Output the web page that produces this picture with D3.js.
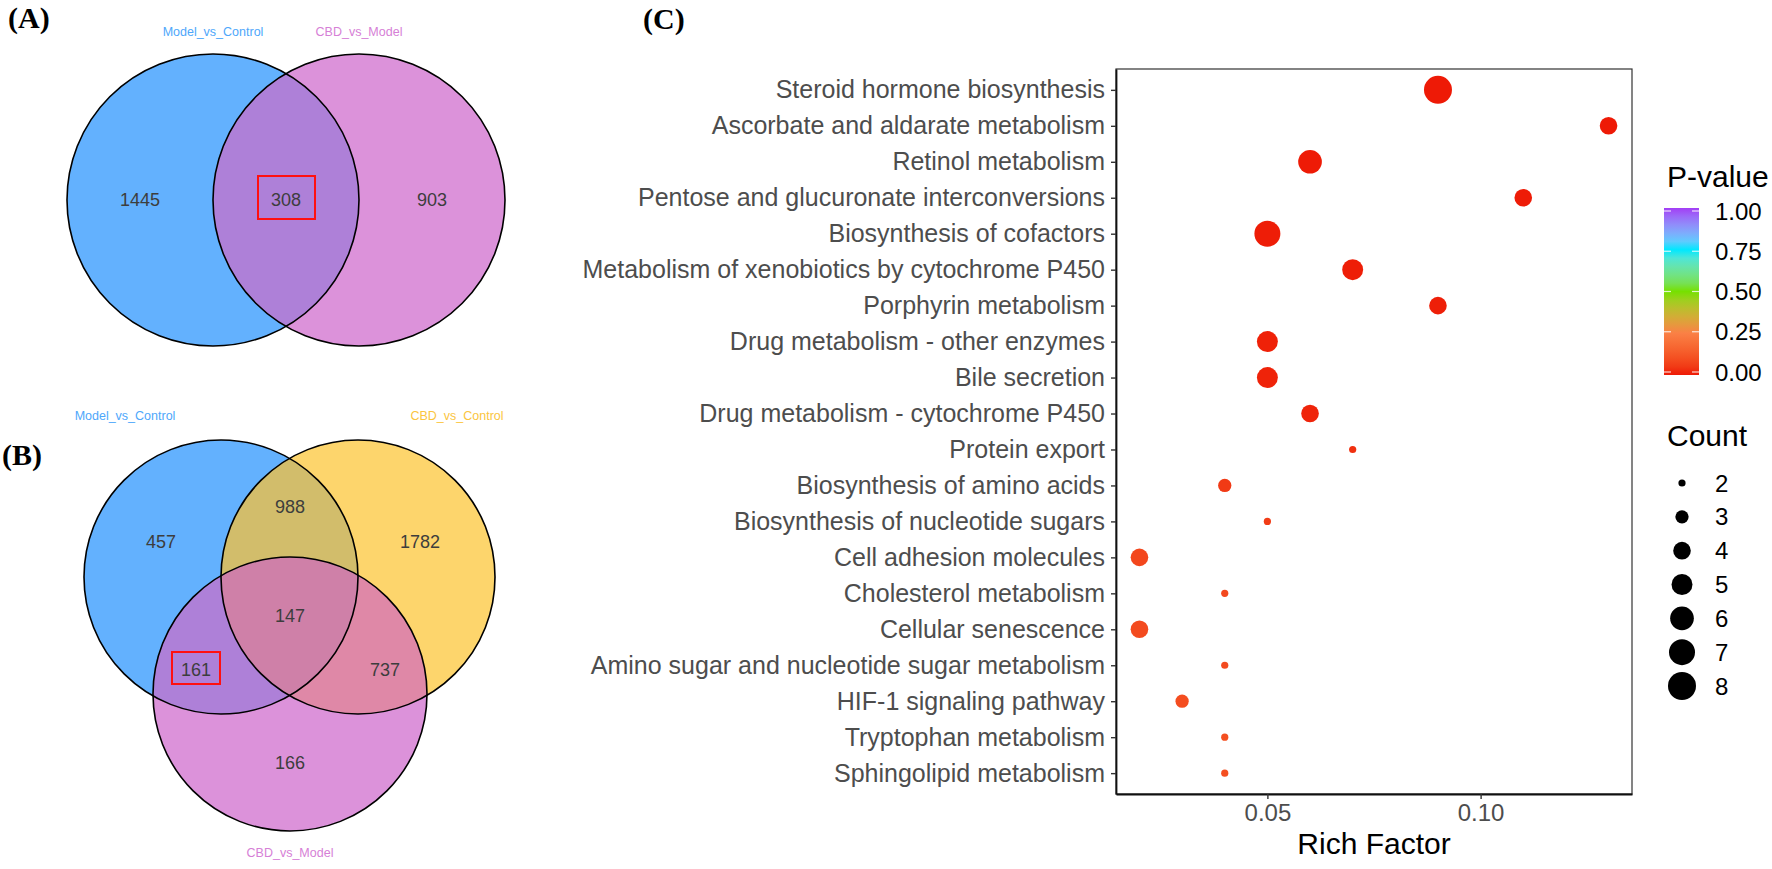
<!DOCTYPE html>
<html>
<head>
<meta charset="utf-8">
<script src="https://cdn.jsdelivr.net/npm/d3@7"></script>
<style>
  body { margin: 0; background: #fff; }
  svg { display: block; font-family: "Liberation Sans", Arial, sans-serif; }
</style>
</head>
<body>
<svg id="fig" width="1772" height="869"></svg>
<script>
// ---- data ----
// Venn (A): two sets
const vennASets = ["Model_vs_Control", "CBD_vs_Model"];
const vennACounts = [1445, 308, 903];          // only A, A&B, only B
// Venn (B): three sets
const vennBSets = ["Model_vs_Control", "CBD_vs_Control", "CBD_vs_Model"];
const vennBRegions = ["A", "AB", "B", "ABC", "AC", "BC", "C"];
const vennBCounts = [457, 988, 1782, 147, 161, 737, 166];

// (C) KEGG enrichment bubble plot
const pathways = [
  "Steroid hormone biosynthesis",
  "Ascorbate and aldarate metabolism",
  "Retinol metabolism",
  "Pentose and glucuronate interconversions",
  "Biosynthesis of cofactors",
  "Metabolism of xenobiotics by cytochrome P450",
  "Porphyrin metabolism",
  "Drug metabolism - other enzymes",
  "Bile secretion",
  "Drug metabolism - cytochrome P450",
  "Protein export",
  "Biosynthesis of amino acids",
  "Biosynthesis of nucleotide sugars",
  "Cell adhesion molecules",
  "Cholesterol metabolism",
  "Cellular senescence",
  "Amino sugar and nucleotide sugar metabolism",
  "HIF-1 signaling pathway",
  "Tryptophan metabolism",
  "Sphingolipid metabolism"
];
const richFactor = [0.09, 0.13, 0.06, 0.11, 0.05, 0.07, 0.09, 0.05, 0.05, 0.06,
                    0.07, 0.04, 0.05, 0.02, 0.04, 0.02, 0.04, 0.03, 0.04, 0.04];
const counts = [8, 4, 6, 4, 7, 5, 4, 5, 5, 4, 2, 3, 2, 4, 2, 4, 2, 3, 2, 2];
const pValues = [0.0001, 0.0005, 0.001, 0.002, 0.003, 0.004, 0.006, 0.008, 0.01, 0.012,
                 0.03, 0.05, 0.055, 0.08, 0.085, 0.09, 0.09, 0.095, 0.1, 0.1];

const xTicks = [0.05, 0.10];
const pTicks = [0, 0.25, 0.5, 0.75, 1];
const countBreaks = [2, 3, 4, 5, 6, 7, 8];

const svg = d3.select("#fig");

// panel letters
const letters = [["(A)", 8, 28], ["(B)", 2, 465], ["(C)", 643, 29]];
svg.selectAll(".panel-letter")
  .data(letters)
  .join("text")
  .attr("class", "panel-letter")
  .attr("x", d => d[1])
  .attr("y", d => d[2])
  .style("font-family", "'Liberation Serif', 'Times New Roman', serif")
  .style("font-weight", "bold")
  .style("font-size", "30px")
  .text(d => d[0]);

// ---------- Venn A ----------
const defs = svg.append("defs");
const numColor = "#3d3d3d";

(function drawVennA() {
  const r = 146, cy = 200;
  const circles = [{ id: "va0", cx: 213, cy: cy, fill: "#63b1fe" },
                   { id: "va1", cx: 359, cy: cy, fill: "#dc92da" }];
  circles.forEach(c => {
    defs.append("clipPath").attr("id", "clip-" + c.id)
      .append("circle").attr("cx", c.cx).attr("cy", c.cy).attr("r", r);
  });
  const g = svg.append("g");
  g.selectAll(".fill").data(circles).join("circle")
    .attr("cx", d => d.cx).attr("cy", d => d.cy).attr("r", r)
    .attr("fill", d => d.fill);
  // intersection
  g.append("circle").attr("cx", circles[1].cx).attr("cy", cy).attr("r", r)
    .attr("clip-path", "url(#clip-va0)").attr("fill", "#ae80d8");
  g.selectAll(".outline").data(circles).join("circle")
    .attr("cx", d => d.cx).attr("cy", d => d.cy).attr("r", r)
    .attr("fill", "none").attr("stroke", "#000").attr("stroke-width", 1.6);

  const numPos = [[140, cy], [286, cy], [432, cy]];
  g.selectAll(".num").data(vennACounts).join("text")
    .attr("x", (d, i) => numPos[i][0]).attr("y", (d, i) => numPos[i][1])
    .attr("dy", "0.36em").attr("text-anchor", "middle")
    .style("font-size", "18px").attr("fill", numColor)
    .text(d => d);
  // highlight box
  g.append("rect").attr("x", 258).attr("y", 176).attr("width", 57).attr("height", 43)
    .attr("fill", "none").attr("stroke", "#ff1010").attr("stroke-width", 2);

  const labColors = ["#4ea7fb", "#d680d6"];
  g.selectAll(".lab").data(vennASets).join("text")
    .attr("x", (d, i) => circles[i].cx).attr("y", 36)
    .attr("text-anchor", "middle").style("font-size", "12.5px")
    .attr("fill", (d, i) => labColors[i]).text(d => d);
})();

// ---------- Venn B ----------
(function drawVennB() {
  const r = 137;
  const circles = [{ id: "vb0", cx: 221, cy: 577, fill: "#63b1fe" },
                   { id: "vb1", cx: 358, cy: 577, fill: "#fdd56c" },
                   { id: "vb2", cx: 290, cy: 694, fill: "#dc92da" }];
  circles.forEach(c => {
    defs.append("clipPath").attr("id", "clip-" + c.id)
      .append("circle").attr("cx", c.cx).attr("cy", c.cy).attr("r", r);
  });
  const g = svg.append("g");
  g.selectAll(".fill").data(circles).join("circle")
    .attr("cx", d => d.cx).attr("cy", d => d.cy).attr("r", r)
    .attr("fill", d => d.fill);
  // pairwise overlaps
  const pairs = [[1, 0, "#d2bd6b"], [2, 0, "#ae80d8"], [2, 1, "#df88a7"]];
  pairs.forEach(p => {
    const c = circles[p[0]];
    g.append("circle").attr("cx", c.cx).attr("cy", c.cy).attr("r", r)
      .attr("clip-path", "url(#clip-" + circles[p[1]].id + ")").attr("fill", p[2]);
  });
  // triple overlap
  g.append("g").attr("clip-path", "url(#clip-vb1)")
    .append("circle").attr("cx", circles[2].cx).attr("cy", circles[2].cy).attr("r", r)
    .attr("clip-path", "url(#clip-vb0)").attr("fill", "#cf80a8");
  g.selectAll(".outline").data(circles).join("circle")
    .attr("cx", d => d.cx).attr("cy", d => d.cy).attr("r", r)
    .attr("fill", "none").attr("stroke", "#000").attr("stroke-width", 1.6);

  const numPos = { A: [161, 542], AB: [290, 507], B: [420, 542], ABC: [290, 616],
                   AC: [196, 670], BC: [385, 670], C: [290, 763] };
  g.selectAll(".num").data(vennBCounts).join("text")
    .attr("x", (d, i) => numPos[vennBRegions[i]][0])
    .attr("y", (d, i) => numPos[vennBRegions[i]][1])
    .attr("dy", "0.36em").attr("text-anchor", "middle")
    .style("font-size", "18px").attr("fill", numColor)
    .text(d => d);
  g.append("rect").attr("x", 172).attr("y", 652).attr("width", 48).attr("height", 32)
    .attr("fill", "none").attr("stroke", "#ff1010").attr("stroke-width", 2);

  const labPos = [[125, 420], [457, 420], [290, 857]];
  const labColors = ["#4ea7fb", "#fbc53e", "#d680d6"];
  g.selectAll(".lab").data(vennBSets).join("text")
    .attr("x", (d, i) => labPos[i][0]).attr("y", (d, i) => labPos[i][1])
    .attr("text-anchor", "middle").style("font-size", "12.5px")
    .attr("fill", (d, i) => labColors[i]).text(d => d);
})();

// ---------- (C) bubble plot ----------
const plot = { left: 1116, right: 1632, top: 69, bottom: 794 };

const xExt = d3.extent(richFactor);
const xPad = (xExt[1] - xExt[0]) * 0.05;
const x = d3.scaleLinear().domain([xExt[0] - xPad, xExt[1] + xPad])
  .range([plot.left, plot.right]);
const y = d3.scalePoint().domain(pathways).range([plot.top, plot.bottom]).padding(0.58);
const size = d3.scaleLog().domain([2, 8]).range([3.6, 14]);
const color = d3.scaleLinear().domain(pTicks)
  .range(["#ee1a06", "#fa8045", "#76e000", "#00e8ff", "#a23ef5"])
  .interpolate(d3.interpolateLab);

const rows = pathways.map((p, i) => ({ name: p, rf: richFactor[i], n: counts[i], p: pValues[i] }));

svg.append("rect")
  .attr("x", plot.left).attr("y", plot.top)
  .attr("width", plot.right - plot.left).attr("height", plot.bottom - plot.top)
  .attr("fill", "none").attr("stroke", "#333").attr("stroke-width", 1.2);

svg.append("g").selectAll("circle")
  .data(rows)
  .join("circle")
  .attr("cx", d => x(d.rf))
  .attr("cy", d => y(d.name))
  .attr("r", d => size(d.n))
  .attr("fill", d => color(d.p));

const xAxis = svg.append("g")
  .attr("transform", `translate(0,${plot.bottom})`)
  .call(d3.axisBottom(x).tickValues(xTicks).tickFormat(d3.format(".2f"))
    .tickSize(5).tickPadding(5).tickSizeOuter(0));
const yAxis = svg.append("g")
  .attr("transform", `translate(${plot.left},0)`)
  .call(d3.axisLeft(y).tickSize(5).tickPadding(6).tickSizeOuter(0));

[xAxis, yAxis].forEach(a => {
  a.select(".domain").attr("stroke", "#111").attr("stroke-width", 1.8);
  a.selectAll(".tick line").attr("stroke", "#333").attr("stroke-width", 1.4);
  a.selectAll(".tick text").attr("fill", "#4d4d4d")
    .style("font-family", "'Liberation Sans', Arial, sans-serif");
});
xAxis.selectAll(".tick text").style("font-size", "24px");
yAxis.selectAll(".tick text").style("font-size", "25px");

svg.append("text")
  .attr("x", (plot.left + plot.right) / 2).attr("y", 854)
  .attr("text-anchor", "middle").style("font-size", "30px").attr("fill", "#000")
  .text("Rich Factor");

// ---------- legends ----------
const lg = svg.append("g");
lg.append("text").attr("x", 1667).attr("y", 187)
  .style("font-size", "30px").text("P-value");

const bar = { x: 1664, w: 35 };
const pBar = d3.scaleLinear().domain([0, 1]).range([372, 211]);
const grad = defs.append("linearGradient").attr("id", "pgrad")
  .attr("x1", 0).attr("y1", 1).attr("x2", 0).attr("y2", 0);
d3.range(0, 1.0001, 0.05).forEach(t => {
  grad.append("stop").attr("offset", t).attr("stop-color", color(t));
});
lg.append("rect").attr("x", bar.x).attr("y", pBar(1) - 3)
  .attr("width", bar.w).attr("height", pBar(0) - pBar(1) + 6)
  .attr("fill", "url(#pgrad)");
pTicks.forEach(t => {
  [[bar.x, bar.x + 7], [bar.x + bar.w - 7, bar.x + bar.w]].forEach(s => {
    lg.append("line").attr("x1", s[0]).attr("x2", s[1])
      .attr("y1", pBar(t)).attr("y2", pBar(t))
      .attr("stroke", "#fff").attr("stroke-width", 1.2).attr("opacity", 0.8);
  });
});
lg.selectAll(".ptick").data(pTicks).join("text")
  .attr("x", 1715).attr("y", d => pBar(d)).attr("dy", "0.36em")
  .style("font-size", "24px").text(d => d3.format(".2f")(d));

lg.append("text").attr("x", 1667).attr("y", 446)
  .style("font-size", "30px").text("Count");
const cy0 = d3.scaleLinear().domain([2, 8]).range([483, 686]);
lg.selectAll(".cdot").data(countBreaks).join("circle")
  .attr("cx", 1682).attr("cy", d => cy0(d)).attr("r", d => size(d)).attr("fill", "#000");
lg.selectAll(".clab").data(countBreaks).join("text")
  .attr("x", 1715).attr("y", d => cy0(d)).attr("dy", "0.36em")
  .style("font-size", "24px").text(d => d);
</script>
</body>
</html>
